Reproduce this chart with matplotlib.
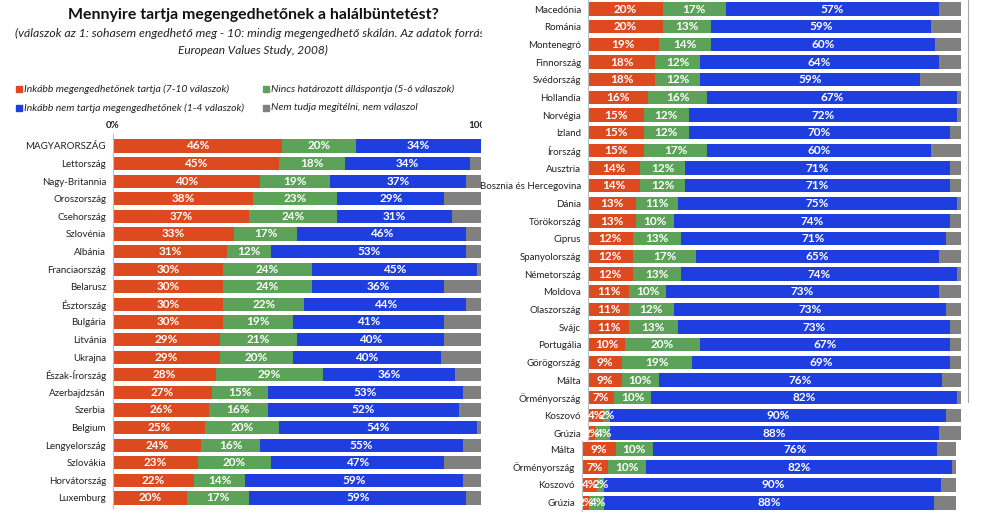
import matplotlib.pyplot as plt
import numpy as np
from matplotlib.patches import Rectangle
from matplotlib.lines import Line2D

plt.rcParams['font.family'] = ['Lato', 'DejaVu Sans']

W, H = 988, 530

# bal oldali tabla
orszagok_bal = ["MAGYARORSZÁG", "Lettország", "Nagy-Britannia", "Oroszország", "Csehország",
                "Szlovénia", "Albánia", "Franciaország", "Belarusz", "Észtország", "Bulgária",
                "Litvánia", "Ukrajna", "Észak-Írország", "Azerbajdzsán", "Szerbia", "Belgium",
                "Lengyelország", "Szlovákia", "Horvátország", "Luxemburg"]
megeng_bal = [46, 45, 40, 38, 37, 33, 31, 30, 30, 30, 30, 29, 29, 28, 27, 26, 25, 24, 23, 22, 20]
nincs_bal = [20, 18, 19, 23, 24, 17, 12, 24, 24, 22, 19, 21, 20, 29, 15, 16, 20, 16, 20, 14, 17]
nem_bal = [34, 34, 37, 29, 31, 46, 53, 45, 36, 44, 41, 40, 40, 36, 53, 52, 54, 55, 47, 59, 59]

# jobb oldali tabla
orszagok_jobb = ["Macedónia", "Románia", "Montenegró", "Finnország", "Svédország", "Hollandia",
                 "Norvégia", "Izland", "Írország", "Ausztria", "Bosznia és Hercegovina", "Dánia",
                 "Törökország", "Ciprus", "Spanyolország", "Németország", "Moldova", "Olaszország",
                 "Svájc", "Portugália", "Görögország", "Málta", "Örményország", "Koszovó", "Grúzia"]
megeng_jobb = [20, 20, 19, 18, 18, 16, 15, 15, 15, 14, 14, 13, 13, 12, 12, 12, 11, 11, 11, 10, 9, 9, 7, 4, 2]
nincs_jobb = [17, 13, 14, 12, 12, 16, 12, 12, 17, 12, 12, 11, 10, 13, 17, 13, 10, 12, 13, 20, 19, 10, 10, 2, 4]
nem_jobb = [57, 59, 60, 64, 59, 67, 72, 70, 60, 71, 71, 75, 74, 71, 65, 74, 73, 73, 73, 67, 69, 76, 82, 90, 88]

jelmagyarazat = ["Inkább megengedhetőnek tartja (7-10 válaszok)",
                 "Nincs határozott álláspontja (5-6 válaszok)",
                 "Inkább nem tartja megengedhetőnek (1-4 válaszok)",
                 "Nem tudja megítélni, nem válaszol"]

piros = "#DE4A20"
zold = "#5CA359"
kek = "#1E3EDF"
szurke = "#808080"


def tengely(x0, y0, x1, y1):
    return fig.add_axes([x0 / W, 1 - y1 / H, (x1 - x0) / W, (y1 - y0) / H])


def panel(ax, orszagok, p, z, k, ylim):
    y = np.arange(len(orszagok))
    p, z, k = np.array(p), np.array(z), np.array(k)
    sz = 100 - p - z - k
    bal = np.zeros(len(orszagok))
    for ertek, szin, cimke in [(p, piros, True), (z, zold, True), (k, kek, True), (sz, szurke, False)]:
        rudak = ax.barh(y, ertek, left=bal, height=0.75, color=szin)
        if cimke:
            ax.bar_label(rudak, labels=[f"{v}%" for v in ertek], label_type="center",
                         color="white", fontweight="bold", fontsize=8.5)
        bal = bal + ertek
    ax.set_xlim(0, 100)
    ax.set_ylim(*ylim)
    ax.set_yticks(y, orszagok)
    ax.tick_params(axis="y", length=0, pad=5, labelsize=7, labelcolor="#222222")
    ax.set_xticks([])
    for s in ["top", "right", "bottom"]:
        ax.spines[s].set_visible(False)
    ax.spines["left"].set_color("#BFBFBF")


fig = plt.figure(figsize=(W / 100, H / 100), dpi=100)

ax1 = tengely(113, 134, 481, 508)
panel(ax1, orszagok_bal, megeng_bal, nincs_bal, nem_bal, (20.57, -0.68))
ax1.xaxis.tick_top()
ax1.set_xticks([0, 100], ["0%", "100%"])
ax1.tick_params(axis="x", length=0, pad=3, labelsize=7, labelcolor="#222222")
for t in ax1.get_xticklabels():
    t.set_fontweight("bold")

ax2 = tengely(588, 0, 961, 441)
panel(ax2, orszagok_jobb, megeng_jobb, nincs_jobb, nem_jobb, (24.45, -0.51))

ax3 = tengely(582, 441, 956, 511)
panel(ax3, orszagok_jobb[-4:], megeng_jobb[-4:], nincs_jobb[-4:], nem_jobb[-4:], (3.45, -0.45))

# a kivagott kep szele
fig.add_artist(Rectangle((482 / W, 1 - 135 / H), 28 / W, 135 / H, transform=fig.transFigure,
                         color="white", zorder=10))
fig.add_artist(Line2D([968 / W, 968 / W], [1, 1 - 402 / H], transform=fig.transFigure,
                      color="#A6A6A6", lw=0.8))

fig.text(253 / W, 1 - 15 / H, "Mennyire tartja megengedhetőnek a halálbüntetést?",
         ha="center", va="center", fontsize=11.4, fontweight="bold", color="#111111")
fig.text(15 / W, 1 - 33 / H,
         "(válaszok az 1: sohasem engedhető meg - 10: mindig megengedhető skálán. Az adatok forrása:",
         ha="left", va="center", fontsize=8.85, style="italic", color="#222222")
fig.text(253 / W, 1 - 50 / H, "European Values Study, 2008)",
         ha="center", va="center", fontsize=8.6, style="italic", color="#222222")

helyek = [(16, 89), (263, 89), (16, 108), (263, 108)]
for (x, y), szin, szoveg in zip(helyek, [piros, zold, kek, szurke], jelmagyarazat):
    fig.add_artist(Rectangle((x / W, 1 - (y + 3) / H), 6 / W, 6 / H, transform=fig.transFigure,
                             color=szin))
    fig.text((x + 8) / W, 1 - y / H, szoveg, ha="left", va="center", fontsize=7.5,
             style="italic", color="#222222")

fig.savefig("out.png", dpi=100, facecolor="white")
